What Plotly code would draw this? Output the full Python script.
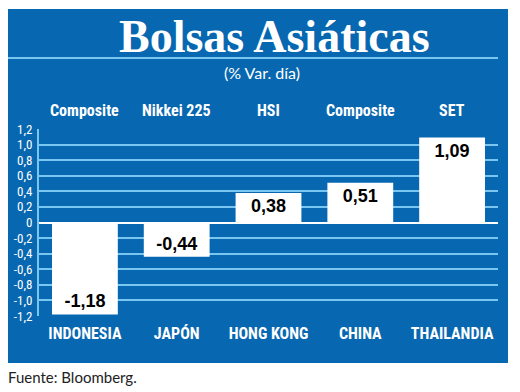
import plotly.graph_objects as go

paises = ["INDONESIA", "JAPÓN", "HONG KONG", "CHINA", "THAILANDIA"]
indices = ["Composite", "Nikkei 225", "HSI", "Composite", "SET"]
variacion = [-1.18, -0.44, 0.38, 0.51, 1.09]
etiquetas = ["-1,18", "-0,44", "0,38", "0,51", "1,09"]
tick_vals = [1.2, 1.0, 0.8, 0.6, 0.4, 0.2, 0, -0.2, -0.4, -0.6, -0.8, -1.0, -1.2]
tick_text = ["1,2", "1,0", "0,8", "0,6", "0,4", "0,2", "0", "-0,2", "-0,4", "-0,6", "-0,8", "-1,0", "-1,2"]

PANEL = "#0767b0"
GRID = "#79c6f0"
NARROW = "Liberation Sans Narrow, Arial Narrow, Roboto Condensed, Liberation Sans, sans-serif"

fig = go.Figure()
fig.add_trace(go.Bar(
    x=paises, y=variacion, text=etiquetas,
    textposition="inside", insidetextanchor="end",
    textfont=dict(family="Liberation Sans, Arial, sans-serif", size=18, color="black", weight="bold"),
    marker=dict(color="white", line=dict(width=0)),
    hoverinfo="skip", cliponaxis=False,
))

W, H = 520, 392
L, R, T, B = 39, 22, 129, 76
pw, ph = W - L - R, H - T - B
def px(x): return (x - L) / pw
def py(y): return (H - B - y) / ph

shapes = [
    dict(type="rect", xref="paper", yref="paper", x0=px(8), x1=px(508), y0=py(363), y1=py(9),
         fillcolor=PANEL, line=dict(width=0), layer="below"),
    dict(type="line", xref="paper", yref="paper", x0=px(8), x1=px(498), y0=py(58), y1=py(58),
         line=dict(color=GRID, width=2), layer="below"),
]

annotations = [
    dict(text="<b>Bolsas Asiáticas</b>", x=px(274), y=py(36), xref="paper", yref="paper",
         xanchor="center", yanchor="middle",
         showarrow=False, font=dict(family="Liberation Serif, serif", size=46, color="white")),
    dict(text="(% Var. día)", x=px(262), y=py(73), xref="paper", yref="paper",
         xanchor="center", yanchor="middle",
         showarrow=False, font=dict(family="Lato, sans-serif", size=16, color="white")),
    dict(text="Fuente: Bloomberg.", x=px(6), y=py(377), xref="paper", yref="paper",
         xanchor="left", yanchor="middle",
         showarrow=False, font=dict(family="Lato, sans-serif", size=15, color="#222222")),
]
for p, name in zip(paises, indices):
    annotations.append(dict(text=name, x=p, y=py(110), xref="x", yref="paper", showarrow=False,
                            xanchor="center", yanchor="middle",
                            font=dict(family=NARROW, size=16, color="white", weight="bold")))

fig.update_layout(
    width=W, height=H, margin=dict(l=L, r=R, t=T, b=B, pad=0),
    paper_bgcolor="white", plot_bgcolor="rgba(0,0,0,0)",
    showlegend=False, bargap=0.283,
    shapes=shapes, annotations=annotations,
    xaxis=dict(showgrid=False, zeroline=False, showline=False, ticks="", ticklabelstandoff=6,
               tickfont=dict(family=NARROW, size=16, color="white", weight="bold"), fixedrange=True),
    yaxis=dict(range=[-1.2, 1.2], tickvals=tick_vals, ticktext=tick_text,
               showgrid=True, gridcolor=GRID, gridwidth=2,
               zeroline=True, zerolinecolor="white", zerolinewidth=2,
               showline=True, linecolor=GRID, linewidth=2,
               ticks="", ticklabelstandoff=2,
               tickfont=dict(family=NARROW, size=13, color="white"), fixedrange=True),
)

fig.write_html("out.html", config={"displayModeBar": False},
               post_script="document.body.style.margin='0';")
